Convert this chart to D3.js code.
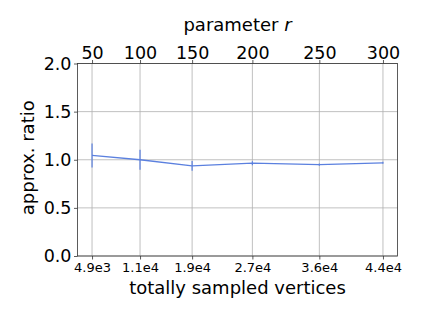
<!DOCTYPE html>
<html lang="en">
<head>
<meta charset="UTF-8">
<title>approx ratio</title>
<style>
  body { margin: 0; background: #fff; }
  svg text { font-family: "DejaVu Sans", sans-serif; fill: #000; }
</style>
</head>
<body>
<svg id="chart" width="423" height="317"></svg>
<script src="https://d3js.org/d3.v7.min.js"></script>
<script>
// data
var rValues = [50, 100, 150, 200, 250, 300];
var vertices = [4900, 11350, 18350, 26450, 35450, 44000];
var vertexLabels = ["4.9e3", "1.1e4", "1.9e4", "2.7e4", "3.6e4", "4.4e4"];
var ratio = [1.045, 1.0, 0.937, 0.964, 0.95, 0.968];
var ratioErr = [0.125, 0.105, 0.05, 0.02, 0.012, 0.01];
var yTicks = [0.0, 0.5, 1.0, 1.5, 2.0];

var svg = d3.select("#chart");
// plot box (don't call it "top", that's window.top)
var pLeft = 77.5, pRight = 397.5, pTop = 63.5, pBottom = 256;

// matplotlib style 5% margin on x
var span = vertices[vertices.length - 1] - vertices[0];
var x = d3.scaleLinear()
    .domain([vertices[0] - span * 0.05, vertices[vertices.length - 1] + span * 0.05])
    .range([pLeft, pRight]);
var y = d3.scaleLinear().domain([0, 2]).range([pBottom, pTop]);

// grid
var grid = svg.append("g").attr("stroke", "#b0b0b0").attr("stroke-width", 0.8);
vertices.forEach(function(v) {
  grid.append("line").attr("x1", x(v)).attr("x2", x(v)).attr("y1", pTop).attr("y2", pBottom);
});
yTicks.forEach(function(t) {
  grid.append("line").attr("x1", pLeft).attr("x2", pRight).attr("y1", y(t)).attr("y2", y(t));
});

// error bars + line
var blue = "#5b80df";
svg.append("g").selectAll("line").data(ratio).enter().append("line")
    .attr("x1", function(d, i) { return x(vertices[i]); })
    .attr("x2", function(d, i) { return x(vertices[i]); })
    .attr("y1", function(d, i) { return y(d - ratioErr[i]); })
    .attr("y2", function(d, i) { return y(d + ratioErr[i]); })
    .attr("stroke", blue).attr("stroke-width", 1.2);

var line = d3.line()
    .x(function(d, i) { return x(vertices[i]); })
    .y(function(d) { return y(d); });
svg.append("path").datum(ratio).attr("d", line)
    .attr("fill", "none").attr("stroke", blue).attr("stroke-width", 1.3);

// axes
var bottomAxis = d3.axisBottom(x).tickValues(vertices)
    .tickFormat(function(d, i) { return vertexLabels[i]; }).tickSize(3.5).tickSizeOuter(0);
var gb = svg.append("g").attr("transform", "translate(0," + pBottom + ")").call(bottomAxis);
gb.selectAll("text").attr("font-size", "13px").attr("dy", "0.75em").attr("y", 6);

var topAxis = d3.axisTop(x).tickValues(vertices)
    .tickFormat(function(d, i) { return rValues[i]; }).tickSize(3.5).tickSizeOuter(0);
var gt = svg.append("g").attr("transform", "translate(0," + pTop + ")").call(topAxis);
gt.selectAll("text").attr("font-size", "17.5px").attr("y", -5);

var leftAxis = d3.axisLeft(y).tickValues(yTicks).tickFormat(d3.format(".1f"))
    .tickSize(3.5).tickSizeOuter(0);
var gl = svg.append("g").attr("transform", "translate(" + pLeft + ",0)").call(leftAxis);
gl.selectAll("text").attr("font-size", "17.5px").attr("x", -6);

svg.selectAll(".domain").remove();
svg.selectAll(".tick line").attr("stroke", "#333").attr("stroke-width", 0.8);

// frame
svg.append("rect").attr("x", pLeft).attr("y", pTop)
    .attr("width", pRight - pLeft).attr("height", pBottom - pTop)
    .attr("fill", "none").attr("stroke", "#333").attr("stroke-width", 0.8);

// labels
svg.append("text").attr("x", (pLeft + pRight) / 2).attr("y", 294)
    .attr("text-anchor", "middle").attr("font-size", "18px")
    .text("totally sampled vertices");
var tl = svg.append("text").attr("x", (pLeft + pRight) / 2).attr("y", 31)
    .attr("text-anchor", "middle").attr("font-size", "18px");
tl.append("tspan").text("parameter ");
tl.append("tspan").attr("font-style", "italic").text("r");
svg.append("text").attr("transform", "translate(34," + ((pTop + pBottom) / 2 - 2) + ") rotate(-90)")
    .attr("text-anchor", "middle").attr("font-size", "18px")
    .text("approx. ratio");
</script>
</body>
</html>
